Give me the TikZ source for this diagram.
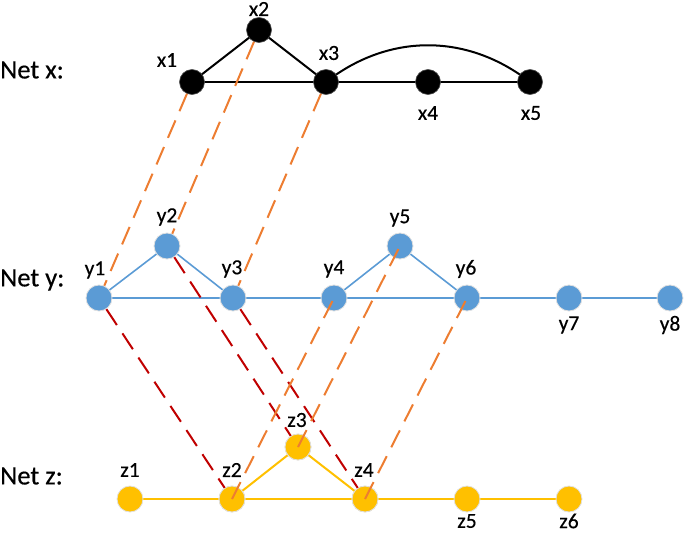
\documentclass[tikz,border=0pt]{standalone}
\usepackage{fontspec}
\setmainfont{Carlito}
\definecolor{nblue}{HTML}{5B9BD5}
\definecolor{nyellow}{HTML}{FFC000}
\definecolor{dorange}{HTML}{ED7D31}
\definecolor{dred}{HTML}{C00000}
\begin{document}
\begin{tikzpicture}[x=1pt,y=-1pt,
  xnode/.style={circle,fill=black,draw=black!70,line width=0.6pt,minimum size=25pt,inner sep=0pt},
  ynode/.style={circle,fill=nblue,draw=black!12,line width=0.8pt,minimum size=26pt,inner sep=0pt},
  znode/.style={circle,fill=nyellow,draw=black!12,line width=0.8pt,minimum size=26pt,inner sep=0pt},
  lbl/.style={font=\fontsize{21.5}{24}\selectfont\addfontfeature{FakeBold=0.4},inner sep=0pt},
  netlbl/.style={font=\fontsize{26.5}{30}\selectfont\addfontfeature{FakeBold=0.4},inner sep=0pt,anchor=west},
  xedge/.style={line width=2pt,black},
  yedge/.style={line width=1.6pt,nblue},
  zedge/.style={line width=2pt,nyellow},
  odash/.style={line width=2pt,dorange,dash pattern=on 19pt off 10pt},
  rdash/.style={line width=2pt,dred,dash pattern=on 19pt off 10pt}]
\useasboundingbox (0,0) rectangle (685,533);
% labels
\node[netlbl] (netx) at (0,70) {Net x:};
\node[netlbl] (nety) at (0,280) {Net y:};
\node[netlbl] (netz) at (0,476) {Net z:};
% coordinates of nodes
\coordinate (cx1) at (192,82);
\coordinate (cx2) at (259,30);
\coordinate (cx3) at (326,82);
\coordinate (cx4) at (428,82);
\coordinate (cx5) at (530,82);
\coordinate (cy1) at (99,298);
\coordinate (cy2) at (167,246);
\coordinate (cy3) at (233,298);
\coordinate (cy4) at (334,298);
\coordinate (cy5) at (400,246);
\coordinate (cy6) at (467,298);
\coordinate (cy7) at (569,298);
\coordinate (cy8) at (670,298);
\coordinate (cz1) at (130,499);
\coordinate (cz2) at (232,499);
\coordinate (cz3) at (298,447);
\coordinate (cz4) at (365,499);
\coordinate (cz5) at (467,499);
\coordinate (cz6) at (569,499);
% edges
\draw[xedge] (cx1) -- (cx2) -- (cx3);
\draw[xedge] (cx1) -- (cx5);
\draw[xedge] (cx3) to[out=38,in=142] (cx5);
\draw[yedge] (cy1) -- (cy2) -- (cy3);
\draw[yedge] (cy4) -- (cy5) -- (cy6);
\draw[yedge] (cy1) -- (cy8);
\draw[zedge] (cz2) -- (cz3) -- (cz4);
\draw[zedge] (cz1) -- (cz6);
% nodes
\node[xnode] (x1) at (cx1) {};
\node[xnode] (x2) at (cx2) {};
\node[xnode] (x3) at (cx3) {};
\node[xnode] (x4) at (cx4) {};
\node[xnode] (x5) at (cx5) {};
\node[ynode] (y1) at (cy1) {};
\node[ynode] (y2) at (cy2) {};
\node[ynode] (y3) at (cy3) {};
\node[ynode] (y4) at (cy4) {};
\node[ynode] (y5) at (cy5) {};
\node[ynode] (y6) at (cy6) {};
\node[ynode] (y7) at (cy7) {};
\node[ynode] (y8) at (cy8) {};
\node[znode] (z1) at (cz1) {};
\node[znode] (z2) at (cz2) {};
\node[znode] (z3) at (cz3) {};
\node[znode] (z4) at (cz4) {};
\node[znode] (z5) at (cz5) {};
\node[znode] (z6) at (cz6) {};
% dashed correspondences
\draw[odash] (x1) -- (y1);
\draw[odash] (x2) -- (y2);
\draw[odash] (x3) -- (y3);
\draw[rdash] (y1) -- (z2.center);
\draw[rdash] (y2) -- (z3.center);
\draw[rdash] (y3) -- (z4.center);
\node[znode] at (cz2) {};
\node[znode] at (cz3) {};
\node[znode] at (cz4) {};
\draw[odash] (z2.center) -- (y4.center);
\draw[odash] (z3.center) -- (y5.center);
\draw[odash] (z4.center) -- (y6.center);
% node labels
\node[lbl] (lx1) at (167,60) {x1};
\node[lbl] (lx2) at (259,9) {x2};
\node[lbl] (lx3) at (329,53) {x3};
\node[lbl] (lx4) at (428,113) {x4};
\node[lbl] (lx5) at (531,113) {x5};
\node[lbl] (ly1) at (95,270) {y1};
\node[lbl] (ly2) at (167,217) {y2};
\node[lbl] (ly3) at (232,269) {y3};
\node[lbl] (ly4) at (334,269) {y4};
\node[lbl] (ly5) at (400,218) {y5};
\node[lbl] (ly6) at (466,269) {y6};
\node[lbl] (ly7) at (569,325) {y7};
\node[lbl] (ly8) at (670,325) {y8};
\node[lbl] (lz1) at (130,470) {z1};
\node[lbl] (lz2) at (232,470) {z2};
\node[lbl] (lz3) at (297,420) {z3};
\node[lbl] (lz4) at (364,470) {z4};
\node[lbl] (lz5) at (467,521) {z5};
\node[lbl] (lz6) at (569,521) {z6};
\end{tikzpicture}
\end{document}
